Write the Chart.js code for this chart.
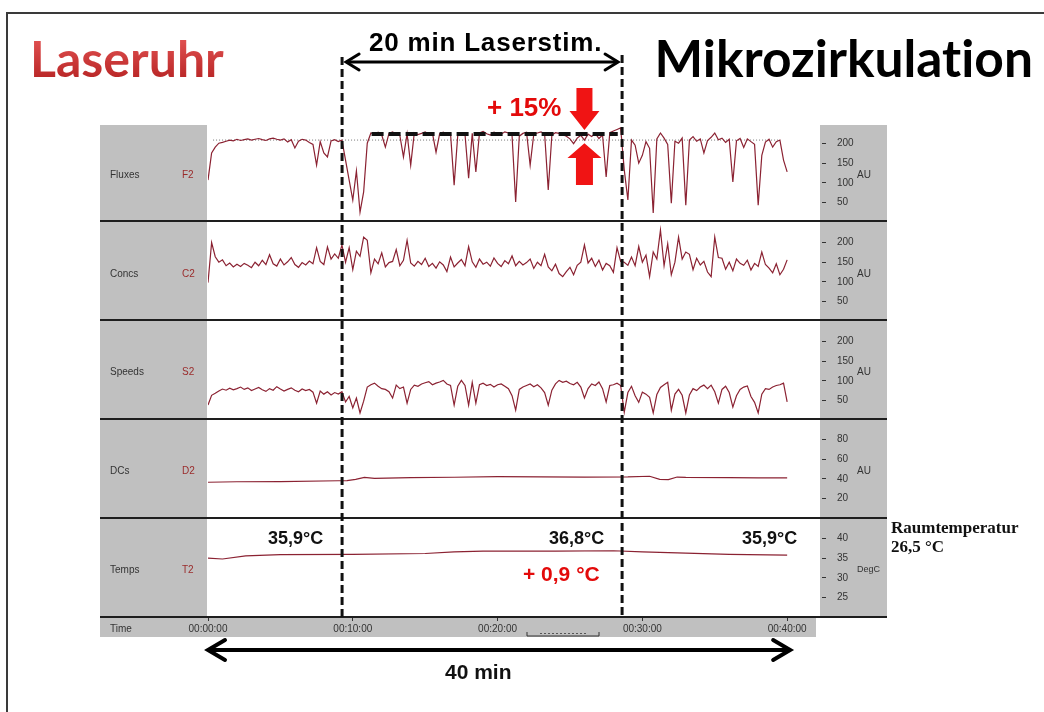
<!DOCTYPE html>
<html lang="de">
<head>
<meta charset="utf-8">
<title>Laseruhr Mikrozirkulation</title>
<script src="https://cdn.jsdelivr.net/npm/chart.js@4.4.0/dist/chart.umd.min.js"></script>
<style>
  html, body { margin: 0; padding: 0; background: #fff; }
  #slide { position: relative; width: 1044px; height: 712px; overflow: hidden; font-family: "Liberation Sans", Arial, sans-serif; }
  #frame { position: absolute; left: 6px; top: 12px; width: 1100px; height: 800px; border-top: 2px solid #3a3a3a; border-left: 2px solid #3a3a3a; }
  .t { position: absolute; white-space: nowrap; line-height: 1; font-weight: bold; z-index: 6; font-variant-ligatures: none; }
  .g { position: absolute; background: #c0c0c0; }
  .sep { position: absolute; left: 100px; width: 787px; height: 2px; background: #1e1e1e; z-index: 4; }
  canvas { position: absolute; left: 100px; z-index: 2; }
  .nm, .cd, .un { position: absolute; font-size: 10px; line-height: 12px; margin-top: -6px; z-index: 3; }
  .nm { left: 110px; color: #333; }
  .cd { left: 182px; color: #9a2b2b; }
  .un { left: 857px; color: #333; }
  #ov { position: absolute; left: 0; top: 0; z-index: 5; }
</style>
</head>
<body>
<div id="slide">
  <div id="frame"></div>

  <div class="t" style="left:30px;top:33px;font-family:Lato,sans-serif;font-size:50px;background:linear-gradient(#e65757,#b52222);-webkit-background-clip:text;background-clip:text;color:transparent">Laseruhr</div>
  <div class="t" style="right:11px;top:32px;font-family:Lato,sans-serif;font-size:51.5px;color:#000">Mikrozirkulation</div>
  <div class="t" style="left:369px;top:28.5px;font-size:26px;letter-spacing:0.8px;color:#000">20 min Laserstim.</div>
  <div class="t" style="left:487px;top:93.5px;font-size:26px;color:#e30a0a">+ 15%</div>

  <div class="g" style="left:100px;top:125px;width:107px;height:492px"></div>
  <div class="g" style="left:820px;top:125px;width:67px;height:492px"></div>
  <div class="g" style="left:100px;top:617px;width:716px;height:20px"></div>

  <canvas id="cFlux" width="787" height="98" style="top:124px"></canvas>
  <canvas id="cConc" width="787" height="98" style="top:223px"></canvas>
  <canvas id="cSpeed" width="787" height="98" style="top:322px"></canvas>
  <canvas id="cDc" width="787" height="98" style="top:420px"></canvas>
  <canvas id="cTemp" width="787" height="119" style="top:519px"></canvas>

  <div class="sep" style="top:220px"></div>
  <div class="sep" style="top:319px"></div>
  <div class="sep" style="top:418px"></div>
  <div class="sep" style="top:517px"></div>
  <div class="sep" style="top:616px"></div>

  <div class="nm" style="top:175px">Fluxes</div><div class="cd" style="top:175px">F2</div>
  <div class="nm" style="top:274px">Concs</div><div class="cd" style="top:274px">C2</div>
  <div class="nm" style="top:372px">Speeds</div><div class="cd" style="top:372px">S2</div>
  <div class="nm" style="top:471px">DCs</div><div class="cd" style="top:471px">D2</div>
  <div class="nm" style="top:570px">Temps</div><div class="cd" style="top:570px">T2</div>
  <div class="nm" style="top:629px">Time</div>
  <div class="un" style="top:175px">AU</div>
  <div class="un" style="top:274px">AU</div>
  <div class="un" style="top:372px">AU</div>
  <div class="un" style="top:471px">AU</div>
  <div class="un" style="top:569px;font-size:9px">DegC</div>

  <div class="t" style="left:268px;top:529px;font-size:18px;color:#111">35,9°C</div>
  <div class="t" style="left:549px;top:529px;font-size:18px;color:#111">36,8°C</div>
  <div class="t" style="left:742px;top:529px;font-size:18px;color:#111">35,9°C</div>
  <div class="t" style="left:523px;top:563px;font-size:21px;color:#e30a0a">+ 0,9 °C</div>
  <div class="t" style="left:891px;top:519px;font-family:'Liberation Serif',serif;font-size:17px;color:#111">Raumtemperatur</div>
  <div class="t" style="left:891px;top:538px;font-family:'Liberation Serif',serif;font-size:17px;color:#111">26,5 °C</div>
  <div class="t" style="left:445px;top:661px;font-size:21px;color:#111">40 min</div>

  <svg id="ov" width="1044" height="712"></svg>
</div>

<script>
// sample times in minutes (15 s steps)
const timeMin = [
  0,0.25,0.5,0.75,1,1.25,1.5,1.75,2,2.25,2.5,2.75,3,3.25,3.5,3.75,4,4.25,4.5,4.75,
  5,5.25,5.5,5.75,6,6.25,6.5,6.75,7,7.25,7.5,7.75,8,8.25,8.5,8.75,9,9.25,9.5,9.75,
  10,10.25,10.5,10.75,11,11.25,11.5,11.75,12,12.25,12.5,12.75,13,13.25,13.5,13.75,14,14.25,14.5,14.75,
  15,15.25,15.5,15.75,16,16.25,16.5,16.75,17,17.25,17.5,17.75,18,18.25,18.5,18.75,19,19.25,19.5,19.75,
  20,20.25,20.5,20.75,21,21.25,21.5,21.75,22,22.25,22.5,22.75,23,23.25,23.5,23.75,24,24.25,24.5,24.75,
  25,25.25,25.5,25.75,26,26.25,26.5,26.75,27,27.25,27.5,27.75,28,28.25,28.5,28.75,29,29.25,29.5,29.75,
  30,30.25,30.5,30.75,31,31.25,31.5,31.75,32,32.25,32.5,32.75,33,33.25,33.5,33.75,34,34.25,34.5,34.75,
  35,35.25,35.5,35.75,36,36.25,36.5,36.75,37,37.25,37.5,37.75,38,38.25,38.5,38.75,39,39.25,39.5,39.75,
  40
];

const fluxes = [
  107,176,191,201,203,206,209,207,211,208, 210,212,209,211,213,210,208,212,214,211,
  209,212,204,210,189,206,211,209,203,198, 145,205,176,166,207,210,205,209,158,107,
  56,130,25,77,201,227,224,229,222,191, 226,230,224,221,166,225,145,228,223,226,
  230,224,227,178,225,229,223,226,94,222, 228,224,112,226,128,227,231,225,222,229,
  226,224,230,227,221,51,219,226,229,145, 224,227,230,225,82,222,228,226,223,219,
  212,200,214,221,209,224,218,226,213,222, 115,228,232,236,240,133,56,209,196,150,
  170,205,188,23,212,227,214,198,48,206, 201,214,43,209,218,206,212,176,208,216,
  227,210,214,203,211,102,207,213,190,212, 205,198,43,170,204,211,191,205,209,158,
  128
];

const concs = [
  98,200,164,150,156,141,148,138,145,139, 147,142,136,150,141,155,144,169,146,140,
  158,143,151,162,144,137,149,143,153,146, 187,152,144,189,158,171,160,194,150,187,
  131,178,165,214,206,123,158,146,174,138, 149,152,182,141,155,206,148,140,152,144,
  160,139,147,135,151,143,126,163,138,148, 157,141,190,151,137,158,145,150,140,161,
  147,139,154,146,166,141,152,143,149,158, 134,150,141,170,138,128,145,121,113,126,
  137,118,142,150,194,148,160,139,155,130, 147,141,124,187,152,150,142,163,141,190,
  150,168,113,176,158,232,141,197,118,150, 214,158,176,170,131,160,143,152,125,113,
  214,162,160,132,150,128,158,147,142,155, 130,147,139,176,144,135,123,146,118,132,
  156
];

const speeds = [
  38,63,68,74,79,76,81,77,80,84, 78,82,75,79,83,77,73,80,76,85,
  79,74,78,82,76,72,79,75,78,71, 43,74,66,72,64,70,66,72,46,60,
  31,56,18,48,84,90,94,86,80,78, 72,56,89,80,84,43,78,89,86,92,
  95,98,90,94,97,101,92,88,38,86, 101,88,38,96,43,90,94,88,91,84,
  90,92,86,80,62,25,78,84,88,92, 85,90,82,70,38,76,92,101,96,99,
  93,90,96,84,56,80,92,88,97,80, 46,88,90,94,88,20,70,86,62,45,
  71,66,58,18,65,83,90,96,25,66, 78,63,18,64,80,75,84,89,80,89,
  72,43,78,86,70,33,62,78,84,87, 60,45,18,66,80,78,84,88,90,94,
  46
];

const dcTime = [0, 2, 5, 9, 9.6, 10.2, 10.8, 11.5, 14, 17, 20, 23, 26, 29, 30.5, 31.2, 31.8, 32.4, 33, 36, 38, 40];
const dcs    = [36.5, 37, 37.2, 38, 38.2, 39.5, 41.5, 40.5, 41.3, 41.6, 42.2, 42, 41.8, 41.9, 42.6, 39.5, 39.2, 41.8, 41.4, 41.2, 41, 41];

const tempTime = [0, 1, 2.6, 5, 10, 15, 17, 19, 24, 28, 30, 33, 36, 40];
const temps    = [35.0, 34.8, 35.6, 35.9, 36.0, 36.2, 36.6, 36.8, 36.8, 36.9, 36.6, 36.3, 36.0, 35.8];

const timeTicks = [0, 10, 20, 30, 40];
const auTicks = [50, 100, 150, 200];
const dcTicks = [20, 40, 60, 80];
const tempTicks = [25, 30, 35, 40];

// annotations
const laserStart = 9.26, laserEnd = 28.6;
const fluxBaseLevel = 209, fluxLaserLevel = 224.5;
const baseLineSpan = [0.35, 39.4];
const laserLineSpan = [11.3, 28.3];

const traceColor = '#8b2232';
const pts = (xs, ys) => ys.map((v, i) => ({ x: xs[i], y: v }));
const fmtTime = v => '00:' + String(v).padStart(2, '0') + ':00';

function panel(id, datasets, yMin, yMax, yTicks, showTime) {
  return new Chart(document.getElementById(id), {
    type: 'line',
    data: { datasets },
    options: {
      responsive: false,
      animation: false,
      events: [],
      layout: { padding: { left: 108, top: 0, right: 0, bottom: 0 } },
      plugins: { legend: { display: false }, tooltip: { enabled: false } },
      elements: { point: { radius: 0 }, line: { tension: 0 } },
      scales: {
        x: {
          type: 'linear', min: 0, max: 42.2,
          display: showTime,
          grid: { drawOnChartArea: false, tickLength: 4, tickColor: '#333' },
          border: { display: false },
          ticks: {
            padding: 2, color: '#333', autoSkip: false, maxRotation: 0,
            font: { size: 10, family: 'Liberation Sans' },
            callback: v => fmtTime(v)
          },
          afterBuildTicks: s => { s.ticks = timeTicks.map(v => ({ value: v })); },
          afterFit: s => {
            s.height = showTime ? 21 : 0;
            s.paddingLeft = 0; s.paddingRight = 0;
          }
        },
        y: {
          position: 'right', min: yMin, max: yMax,
          grid: { drawOnChartArea: false, tickLength: 7, tickColor: '#333', tickBorderDash: [0, 3, 4, 0] },
          border: { display: false },
          ticks: { padding: 11, color: '#333', font: { size: 10, family: 'Liberation Sans' } },
          afterBuildTicks: s => { s.ticks = yTicks.map(v => ({ value: v })); },
          afterFit: s => { s.width = 68; s.paddingTop = 0; s.paddingBottom = 0; }
        }
      }
    }
  });
}

const trace = data => ({ data, borderColor: traceColor, borderWidth: 1.2, fill: false });

const fluxChart = panel('cFlux', [
  { data: pts(laserLineSpan, [fluxLaserLevel, fluxLaserLevel]), borderColor: '#111', borderWidth: 4, borderDash: [12, 5] },
  trace(pts(timeMin, fluxes)),
  { data: pts(baseLineSpan, [fluxBaseLevel, fluxBaseLevel]), borderColor: '#777', borderWidth: 1, borderDash: [1, 2] }
], 0, 250, auTicks, false);
panel('cConc', [trace(pts(timeMin, concs))], 0, 250, auTicks, false);
panel('cSpeed', [trace(pts(timeMin, speeds))], 0, 250, auTicks, false);
panel('cDc', [trace(pts(dcTime, dcs))], 0, 100, dcTicks, false);
panel('cTemp', [trace(pts(tempTime, temps))], 20, 45, tempTicks, true);

// overlay: dashed period markers, arrows
const fx = t => 100 + fluxChart.scales.x.getPixelForValue(t);
const fy = v => fluxChart.canvas.offsetTop + fluxChart.scales.y.getPixelForValue(v);

function dblArrow(xa, xb, y, w, back, half) {
  const head = (x, d) => `<polyline points="${x + d * back},${y - half} ${x},${y} ${x + d * back},${y + half}" fill="none" stroke="#000" stroke-width="${w}" stroke-linecap="round"/>`;
  return `<line x1="${xa + 1}" y1="${y}" x2="${xb - 1}" y2="${y}" stroke="#000" stroke-width="${w}"/>` + head(xa, 1) + head(xb, -1);
}

const xa = fx(laserStart), xb = fx(laserEnd);
let svg = '';
svg += `<line x1="${xa}" y1="57" x2="${xa}" y2="617" stroke="#111" stroke-width="3" stroke-dasharray="8 4"/>`;
svg += `<line x1="${xb}" y1="55" x2="${xb}" y2="617" stroke="#111" stroke-width="3" stroke-dasharray="8 4"/>`;
svg += dblArrow(xa + 4, xb - 4, 62, 3, 13, 8);
svg += dblArrow(fx(0), fx(40) + 3, 650, 4, 17, 10);

const cx = fx(26.0), downTip = fy(235), upTip = fy(201);
svg += `<polygon fill="#f01414" points="${cx - 8},88 ${cx + 8},88 ${cx + 8},111 ${cx + 15},111 ${cx},${downTip} ${cx - 15},111 ${cx - 8},111"/>`;
svg += `<polygon fill="#f01414" points="${cx},${upTip} ${cx + 17},158 ${cx + 8.5},158 ${cx + 8.5},185 ${cx - 8.5},185 ${cx - 8.5},158 ${cx - 17},158"/>`;

// little scroll marker in the time row
svg += `<path d="M527 632 V636 H599 V632" fill="none" stroke="#333" stroke-width="1"/>`;
svg += `<line x1="540" y1="633.5" x2="586" y2="633.5" stroke="#555" stroke-width="1" stroke-dasharray="2 2"/>`;

document.getElementById('ov').innerHTML = svg;
</script>
</body>
</html>
